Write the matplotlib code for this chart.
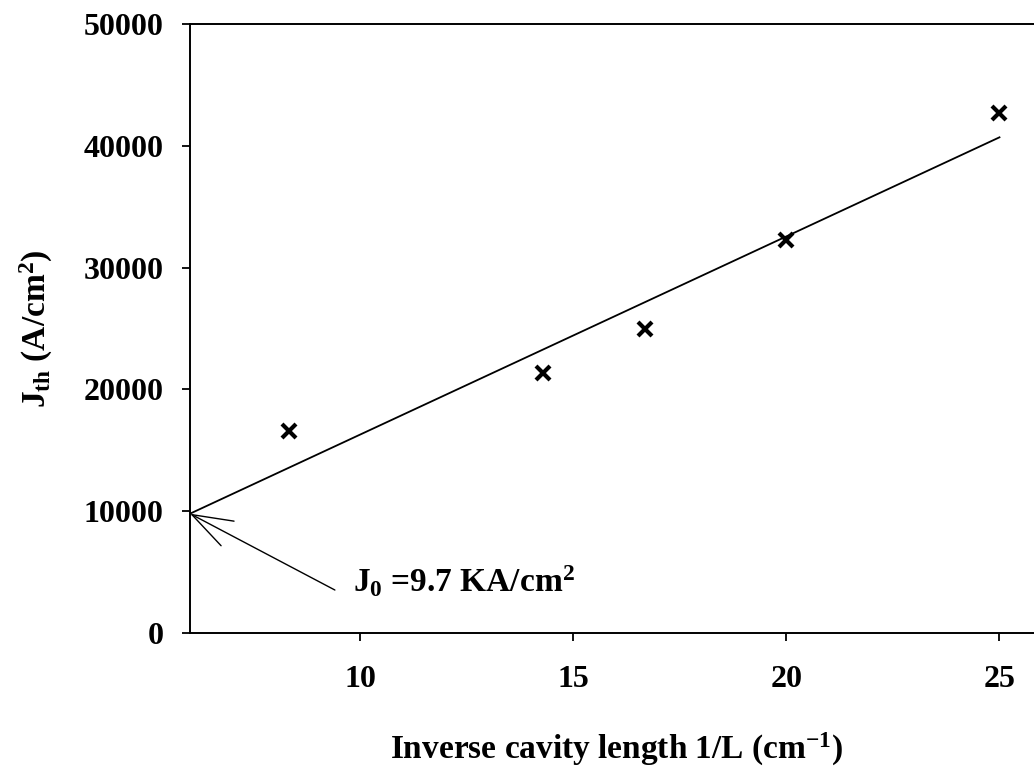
import matplotlib
matplotlib.use("Agg")
import matplotlib.pyplot as plt

# ---------------------------
# Data
# ---------------------------
inv_length = [8.33, 14.29, 16.67, 20.0, 25.0]
j_th = [16600, 21350, 25000, 32300, 42700]

fit_x = [6.0, 25.0]
fit_y = [9800, 40700]

x_ticks = [10, 15, 20, 25]
y_ticks = [0, 10000, 20000, 30000, 40000, 50000]

plt.rcParams["font.family"] = ["Liberation Serif", "DejaVu Serif"]
plt.rcParams["font.weight"] = "bold"
plt.rcParams["mathtext.default"] = "regular"

fig = plt.figure(figsize=(10.34, 7.66), dpi=100)
ax = fig.add_axes([0.1838, 0.1736, 0.824, 0.795])

ax.plot(fit_x, fit_y, color="black", lw=1.3)
ax.plot(inv_length, j_th, linestyle="none", marker="x", color="black",
        markersize=10, markeredgewidth=3)

ax.set_xlim(6, 26)
ax.set_ylim(0, 50000)
ax.set_xticks(x_ticks)
ax.set_yticks(y_ticks)
ax.tick_params(direction="out", length=6, width=1.3, labelsize=23)
ax.tick_params(axis="y", pad=13)
ax.tick_params(axis="x", pad=17)
for lab in ax.get_xticklabels() + ax.get_yticklabels():
    lab.set_fontweight("bold")
for sp in ax.spines.values():
    sp.set_linewidth(1.4)

ax.set_xlabel("Inverse cavity length 1/L (cm$^{-1}$)", fontsize=24,
              fontweight="bold")
ax.set_ylabel("J$_{th}$ (A/cm$^{2}$)", fontsize=24, fontweight="bold")
ax.xaxis.set_label_coords(0.5, -0.16)
ax.yaxis.set_label_coords(-0.159, 0.5)

# J0 annotation: open arrow pointing at the intercept
ax.annotate("", xy=(6.0, 9800), xytext=(9.4, 3530),
            arrowprops=dict(arrowstyle="->,head_length=2.9,head_width=1.0",
                            mutation_scale=10, color="black", lw=1.0,
                            shrinkA=0, shrinkB=0))
ax.text(9.83, 3370, "J$_{0}$ =9.7 KA/cm$^{2}$", fontsize=24,
        fontweight="bold", ha="left", va="baseline")

fig.savefig("out.png", dpi=100)
